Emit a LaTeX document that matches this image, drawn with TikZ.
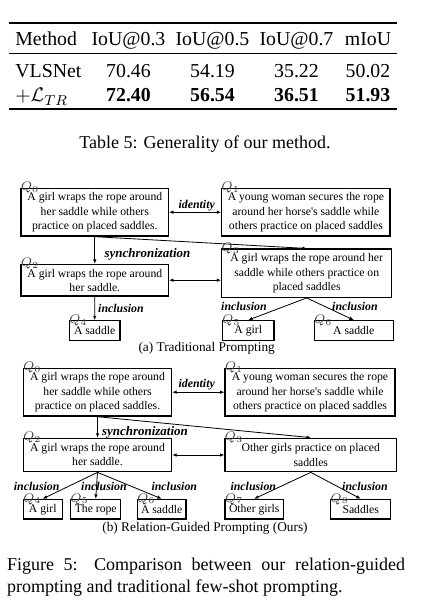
\documentclass[tikz,border=0pt]{standalone}
\usepackage{fontspec}
\setmainfont{Liberation Serif}
\usetikzlibrary{arrows.meta}

\tikzset{
  cell/.style={anchor=base, inner sep=0pt, font=\fontsize{11}{13.6}\selectfont},
  qbox/.style={draw, line width=0.7pt, align=center, inner sep=0pt, font=\fontsize{6.5}{7.8}\selectfont},
  qlab/.style={anchor=base west, inner sep=0pt, yshift=-1.8pt, text=black!75, font=\fontsize{7}{8}\selectfont},
  rel/.style={anchor=base, inner sep=0pt, font=\fontsize{6.6}{8}\selectfont\bfseries\itshape},
  subcap/.style={anchor=base, inner sep=0pt, font=\fontsize{7.4}{9}\selectfont},
  link/.style={line width=0.45pt, -{Latex[length=2.4pt,width=2pt]}},
  both/.style={line width=0.45pt, {Latex[length=2.4pt,width=2pt]}-{Latex[length=2.4pt,width=2pt]}},
}

\begin{document}
\begin{tikzpicture}[x=0.5556pt, y=-0.5556pt]
  \useasboundingbox (0,0) rectangle (432,608);

  % table
  \draw[line width=0.9pt] (9,23.3) -- (397,23.3);
  \draw[line width=0.55pt] (9,53.3) -- (397,53.3);
  \draw[line width=0.9pt] (9,109) -- (397,109);
  \node[cell, anchor=base west] (mhead) at (15,45.7) {Method};
  \node[cell, anchor=base west] (vls) at (15,77.3) {VLSNet};
  \node[cell, anchor=base west] (ltr) at (15,102) {$+\mathcal{L}_{TR}$};
  \foreach \cx/\hd/\va/\vb [count=\i] in {128.5/IoU@0.3/70.46/72.40, 212.5/IoU@0.5/54.19/56.54,
      296.5/IoU@0.7/35.22/36.51, 368/mIoU/50.02/51.93} {
    \node[cell] (hd\i) at (\cx,45.7) {\hd};
    \node[cell] (va\i) at (\cx,77.3) {\va};
    \node[cell, font=\fontsize{11}{13.6}\selectfont\bfseries] (vb\i) at (\cx,102) {\vb};
  }
  \node[anchor=base, inner sep=0pt, font=\fontsize{10}{12}\selectfont] (tabcap) at (205,148.5)
    {Table 5: Generality of our method.};

  % (a) traditional prompting
  \node[qbox, minimum width=81.9pt, minimum height=26.5pt] (a0) at (94.8,212.2)
    {A girl wraps the rope around\\her saddle while others\\practice on placed saddles.};
  \node[qbox, minimum width=93.5pt, minimum height=26.5pt] (a1) at (305.9,212.2)
    {A young woman secures the rope\\around her horse\textquotesingle s saddle while\\others practice on placed saddles};
  \node[qbox, minimum width=81.9pt, minimum height=17.6pt] (a2) at (94.8,280.2)
    {A girl wraps the rope around\\her saddle.};
  \node[qbox, minimum width=94.4pt, minimum height=26.8pt] (a3) at (306.7,273.2)
    {A girl wraps the rope around her\\saddle while others practice on\\placed saddles};
  \node[qbox, minimum width=28.2pt, minimum height=11.1pt] (a4) at (94.7,330.7) {A saddle};
  \node[qbox, minimum width=28.7pt, minimum height=11.1pt] (a5) at (248.2,330.7) {A girl};
  \node[qbox, minimum width=43.9pt, minimum height=11.1pt] (a6) at (353.8,330.7) {A saddle};
  \node[qlab] (qa0) at (a0.north west) {$Q_0$};
  \node[qlab] (qa1) at (a1.north west) {$Q_1$};
  \node[qlab] (qa2) at (a2.north west) {$Q_2$};
  \node[qlab] (qa3) at (a3.north west) {$Q_3$};
  \node[qlab] (qa4) at (a4.north west) {$Q_4$};
  \node[qlab] (qa5) at (a5.north west) {$Q_5$};
  \node[qlab] (qa6) at (a6.north west) {$Q_6$};

  \draw[both] (a0.east) -- (a1.west);
  \draw[link] (a0.south) -- (a2.north);
  \draw[link] (a0.south) -- (a3.north);
  \draw[both] (a2.east) -- (a2.east -| a3.west);
  \draw[link] (a2.south) -- (a4.north);
  \draw[link] (a3.south) -- (a5.north);
  \draw[link] (a3.south) -- (a6.north);
  \node[rel] (ida) at (196.7,209) {identity};
  \node[rel, font=\fontsize{7.2}{8}\selectfont\bfseries\itshape] (synca) at (147.5,257.3) {synchronization};
  \node[rel] (inca4) at (121,312.7) {inclusion};
  \node[rel] (inca5) at (244,310.7) {inclusion};
  \node[rel] (inca6) at (355,310.7) {inclusion};
  \node[subcap] (capa) at (206.7,351.5) {(a) Traditional Prompting};

  % (b) relation-guided prompting
  \node[qbox, minimum width=82.4pt, minimum height=26.5pt] (b0) at (97.5,392.2)
    {A girl wraps the rope around\\her saddle while others\\practice on placed saddles.};
  \node[qbox, minimum width=94.4pt, minimum height=26.5pt] (b1) at (310,392.2)
    {A young woman secures the rope\\around her horse\textquotesingle s saddle while\\others practice on placed saddles};
  \node[qbox, minimum width=82.4pt, minimum height=18.6pt] (b2) at (97.5,455)
    {A girl wraps the rope around\\her saddle.};
  \node[qbox, minimum width=95.4pt, minimum height=18.6pt] (b3) at (310.8,455)
    {Other girls practice on placed\\saddles};
  \node[qbox, minimum width=21.7pt, minimum height=10.9pt] (b4) at (42.8,509.2) {A girl};
  \node[qbox, minimum width=27.8pt, minimum height=10.9pt] (b5) at (95.7,509.2) {The rope};
  \node[qbox, minimum width=27.1pt, minimum height=10.9pt] (b6) at (161.7,509.2) {A saddle};
  \node[qbox, minimum width=32.4pt, minimum height=10.9pt] (b7) at (254.2,509.2) {Other girls};
  \node[qbox, minimum width=33.3pt, minimum height=10.9pt] (b8) at (360.7,509.2) {Saddles};
  \node[qlab] (qb0) at (b0.north west) {$Q_0$};
  \node[qlab] (qb1) at (b1.north west) {$Q_1$};
  \node[qlab] (qb2) at (b2.north west) {$Q_2$};
  \node[qlab] (qb3) at (b3.north west) {$Q_3$};
  \node[qlab] (qb4) at (b4.north west) {$Q_4$};
  \node[qlab] (qb5) at (b5.north west) {$Q_5$};
  \node[qlab] (qb6) at (b6.north west) {$Q_6$};
  \node[qlab] (qb7) at (b7.north west) {$Q_7$};
  \node[qlab] (qb8) at (b8.north west) {$Q_8$};

  \draw[both] (b0.east) -- (b1.west);
  \draw[link] (b0.south) -- (b2.north);
  \draw[link] (b0.south) -- (b3.north);
  \draw[both] (b2.east) -- (b3.west);
  \draw[link] (b2.south) -- (b4.north);
  \draw[link] (b2.south) -- (b5.north);
  \draw[link] (b2.south) -- (b6.north);
  \draw[link] (b3.south) -- (b7.north);
  \draw[link] (b3.south) -- (b8.north);
  \node[rel] (idb) at (196.7,387.3) {identity};
  \node[rel, font=\fontsize{7.2}{8}\selectfont\bfseries\itshape] (syncb) at (145,435.7) {synchronization};
  \node[rel] (incb4) at (36.7,490.7) {inclusion};
  \node[rel] (incb5) at (104,490.7) {inclusion};
  \node[rel] (incb6) at (174.3,490.7) {inclusion};
  \node[rel] (incb7) at (253.3,490.7) {inclusion};
  \node[rel] (incb8) at (365,490.7) {inclusion};
  \node[subcap] (capb) at (205,531) {(b) Relation-Guided Prompting (Ours)};

  \node[anchor=base west, text width=221.1pt, align=justify, inner sep=0pt,
    font=\fontsize{10}{12.6}\selectfont] (figcap) at (6.7,570)
    {Figure 5: Comparison between our relation-guided prompting and traditional few-shot prompting.};
\end{tikzpicture}
\end{document}
